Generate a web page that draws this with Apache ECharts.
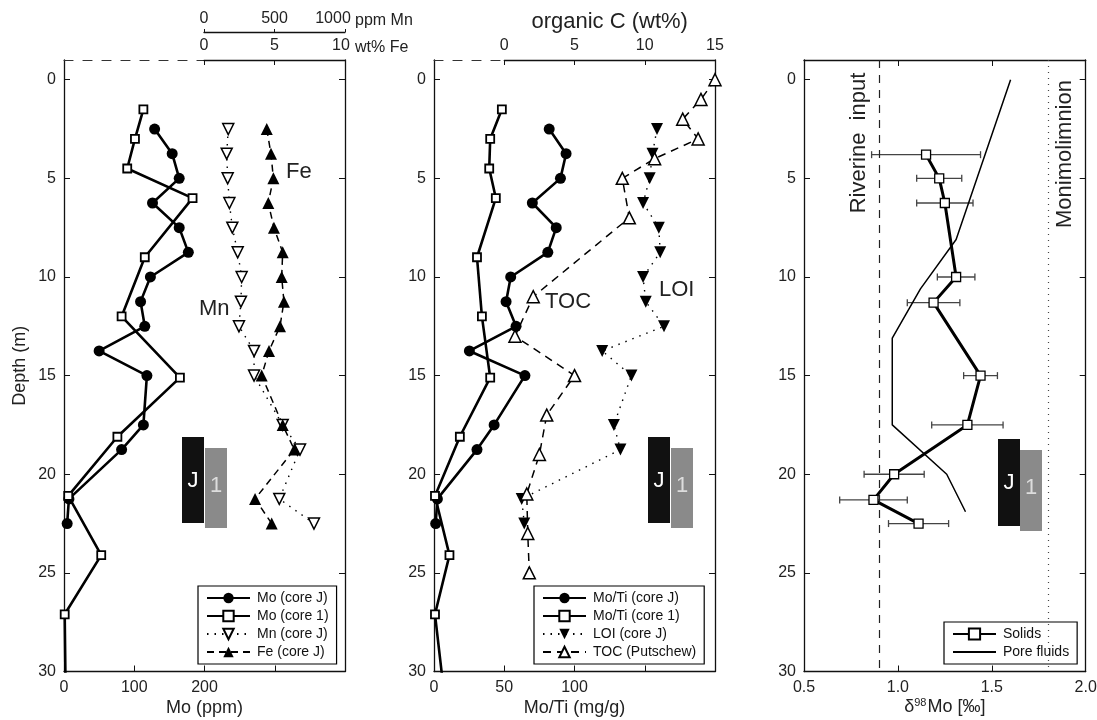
<!DOCTYPE html>
<html><head><meta charset="utf-8">
<script src="https://cdn.jsdelivr.net/npm/echarts@6/dist/echarts.min.js"></script>
<style>html,body{margin:0;padding:0;background:#fff}#c{width:1097px;height:720px}</style>
</head><body><div id="c"></div>
<script>
// ---------- data ----------
const depthJ = [2.5,3.75,5,6.25,7.5,8.75,10,11.25,12.5,13.75,15,17.5,18.75,21.25,22.5];
const moJ   = [129,154,164,126,164,177,123,109,115,50,118,113,82,7,4.5];
const depth1 = [1.5,3,4.5,6,9,12,15.1,18.1,21.1,24.1,27.1,31];
const mo1    = [113,101,90,183,115,82,165,76,6,53,1,2.3];
const mnJ = [172,161,168,180,201,239,267,262,248,355,355,558,681,534,780];
const feJ = [4.45,4.75,4.92,4.56,4.96,5.58,5.51,5.67,5.39,4.61,4.09,5.58,6.4,3.62,4.8];
const motiJ = [82,94,90,70,87,81,54.6,51.3,58.4,25.2,64.7,42.8,30.6,2.4,1.2];
const moti1 = [48.3,40,39.3,44,30.6,34.1,40,18.4,0.7,11,0.7,7.0];
const loiJ = [10.87,10.55,10.35,9.88,11.0,11.1,9.88,10.07,11.37,6.97,9.05,7.8,8.27,1.24,1.42];
const depthTOC = [0,1,2,3,4,5,7,11,13,15,17,19,21,23,25];
const toc      = [15.0,14.0,12.7,13.8,10.7,8.4,8.9,2.06,0.76,5.0,3.02,2.5,1.6,1.67,1.78];
const depthSolid = [3.8,5,6.25,10,11.3,15,17.5,20,21.3,22.5];
const d98Solid   = [1.15,1.22,1.25,1.31,1.19,1.44,1.37,0.98,0.87,1.11];
const d98Err     = [0.29,0.12,0.15,0.10,0.14,0.09,0.19,0.16,0.18,0.16];
const depthPore = [0,8.1,10.6,13.1,17.5,20,21.9];
const d98Pore   = [1.60,1.31,1.12,0.97,0.97,1.26,1.36];
const riverine = 0.9, monimo = 1.8;
const depthTicks = [0,5,10,15,20,25,30];

// ---------- helpers ----------
const FF = "'Liberation Sans', Arial, Helvetica, sans-serif";
const INK = '#111';
const zip = (xs, ys) => xs.map((x, i) => [x, ys[i]]);
const GT = 60, GH = 611.5;
function grid(left, width){ return {left, top:GT, width, height:GH, outerBoundsMode:'none', containLabel:false}; }
function yAx(gridIndex, opts){
  return Object.assign({
    type:'value', gridIndex, min:-1, max:30, inverse:true,
    splitLine:{show:false},
    axisLine:{show:true, onZero:false, lineStyle:{color:INK, width:1.3}},
    axisTick:{show:true, inside:true, length:6, customValues:depthTicks, lineStyle:{color:INK, width:1}},
    axisLabel:{show:true, customValues:depthTicks, fontSize:16, color:'#222', margin:8, fontFamily:FF},
    nameMoveOverlap:false
  }, opts);
}
function xAx(gridIndex, opts){
  return Object.assign({
    type:'value', gridIndex,
    splitLine:{show:false},
    axisLine:{show:true, onZero:false, lineStyle:{color:INK, width:1.3}},
    axisTick:{show:true, inside:true, length:6, lineStyle:{color:INK, width:1}},
    axisLabel:{show:true, fontSize:16, color:'#222', margin:8, fontFamily:FF},
    nameTextStyle:{fontSize:18, color:'#222', fontFamily:FF},
    nameMoveOverlap:false
  }, opts);
}
const noLab = {show:false};
const topLabRich = {
  n:{fontSize:16, color:'#222', fontFamily:FF},
  r10:{fontSize:16, color:'#222', fontFamily:FF, padding:[0,8,0,0]},
  r1000:{fontSize:16, color:'#222', fontFamily:FF, padding:[0,24,0,0]}
};

const legendBase = {
  orient:'vertical', backgroundColor:'#fff', borderColor:'#000', borderWidth:1.2, borderRadius:0,
  padding:[5,8,5,8], itemGap:4, itemWidth:43, itemHeight:13, selectedMode:false,
  textStyle:{fontSize:14, color:'#111', fontFamily:FF, padding:[0,0,0,2]}
};

const black = {color:'#000'};
const openSym = {color:'#fff', borderColor:'#000', borderWidth:1.8};

const option = {
  animation:false,
  backgroundColor:'#fff',
  grid:[ grid(64,281), grid(204,141), grid(434,281), grid(504.3,210.7), grid(804,281.7) ],
  xAxis:[
    // 0: Mo (ppm) bottom
    xAx(0,{min:0,max:400,interval:100, position:'bottom',
      axisLabel:{fontSize:16,color:'#222',margin:8,fontFamily:FF, formatter:v=> v<=200 ? String(v) : ''},
      name:'Mo (ppm)', nameLocation:'middle', nameGap:28}),
    // 1: dashed top of left panel
    xAx(0,{min:0,max:400, position:'top', axisTick:noLab, axisLabel:noLab,
      axisLine:{show:true,onZero:false,lineStyle:{color:'#333',width:1.2,type:[9,10]}}}),
    // 2: Fe wt% top
    xAx(1,{min:0,max:10,interval:5, position:'top', axisTick:{show:true,inside:true,length:5,lineStyle:{color:INK}},
      axisLabel:{margin:6, rich:topLabRich, formatter:v=> v===10 ? '{r10|10}' : '{n|'+v+'}'},
      name:'wt% Fe', nameLocation:'end', nameGap:10,
      nameTextStyle:{fontSize:16,color:'#222',fontFamily:FF, verticalAlign:'bottom', padding:[0,0,4,0]}}),
    // 3: Mn ppm top (offset)
    xAx(1,{min:0,max:1000,interval:500, position:'top', offset:28,
      axisTick:{show:true,inside:false,length:3,lineStyle:{color:INK}},
      axisLabel:{margin:5, rich:topLabRich, formatter:v=> v===1000 ? '{r1000|1000}' : '{n|'+v+'}'},
      name:'ppm Mn', nameLocation:'end', nameGap:10,
      nameTextStyle:{fontSize:16,color:'#222',fontFamily:FF, verticalAlign:'bottom', padding:[0,0,3,0]}}),
    // 4: Mo/Ti bottom
    xAx(2,{min:0,max:200,interval:50, position:'bottom',
      axisLabel:{fontSize:16,color:'#222',margin:8,fontFamily:FF, formatter:v=> v<=100 ? String(v) : ''},
      name:'Mo/Ti (mg/g)', nameLocation:'middle', nameGap:28}),
    // 5: dashed top of middle panel
    xAx(2,{min:0,max:200, position:'top', axisTick:noLab, axisLabel:noLab,
      axisLine:{show:true,onZero:false,lineStyle:{color:'#333',width:1.2,type:[9,10]}}}),
    // 6: organic C top
    xAx(3,{min:0,max:15,interval:5, position:'top', axisTick:{show:true,inside:true,length:5,lineStyle:{color:INK}},
      axisLabel:{fontSize:16,color:'#222',margin:6,fontFamily:FF},
      name:'organic C (wt%)', nameLocation:'middle', nameGap:27,
      nameTextStyle:{fontSize:22,color:'#222',fontFamily:FF}}),
    // 7: delta98Mo bottom
    xAx(4,{min:0.5,max:2.0,interval:0.5, position:'bottom',
      axisLabel:{fontSize:16,color:'#222',margin:8,fontFamily:FF, formatter:v=>v.toFixed(1)},
      name:'{a|δ}{b|98}{a|Mo [‰]}', nameLocation:'middle', nameGap:26,
      nameTextStyle:{fontFamily:FF, rich:{
        a:{fontSize:18,color:'#222',fontFamily:FF},
        b:{fontSize:11,color:'#222',fontFamily:FF, padding:[0,1,9,0]}
      }}}),
    // 8: delta top border
    xAx(4,{min:0.5,max:2.0,interval:0.5, position:'top', axisLabel:noLab})
  ],
  yAxis:[
    yAx(0,{name:'Depth (m)', nameLocation:'middle', nameGap:35, nameRotate:90,
      nameTextStyle:{fontSize:18,color:'#222',fontFamily:FF}}),
    yAx(1,{position:'right', axisLabel:noLab}),
    yAx(2,{}),
    yAx(3,{position:'right', axisLabel:noLab}),
    yAx(4,{}),
    yAx(4,{position:'right', axisLabel:noLab})
  ],
  legend:[
    Object.assign({}, legendBase, {left:198, top:586, data:['Mo (core J)','Mo (core 1)','Mn (core J)','Fe (core J)']}),
    Object.assign({}, legendBase, {left:534, top:586, data:['Mo/Ti (core J)','Mo/Ti (core 1)','LOI (core J)','TOC (Putschew)']}),
    Object.assign({}, legendBase, {left:944, top:622, itemHeight:14, data:['Solids',
      {name:'Pore fluids', itemStyle:{color:'rgba(0,0,0,0)', borderColor:'rgba(0,0,0,0)', borderWidth:0, opacity:0}}]})
  ],
  series:[
    {name:'Mo (core J)', type:'line', xAxisIndex:0, yAxisIndex:0, data:zip(moJ, depthJ),
      symbol:'circle', symbolSize:11, itemStyle:black, lineStyle:{color:'#000', width:2.6}, z:3},
    {name:'Mo (core 1)', type:'line', xAxisIndex:0, yAxisIndex:0, data:zip(mo1, depth1),
      symbol:'rect', symbolSize:8, itemStyle:openSym, lineStyle:{color:'#000', width:2.6}, z:3},
    {name:'Mn (core J)', type:'line', xAxisIndex:3, yAxisIndex:1, data:zip(mnJ, depthJ),
      symbol:'triangle', symbolRotate:180, symbolSize:11, itemStyle:{color:'#fff',borderColor:'#000',borderWidth:1.5},
      lineStyle:{color:'#000', width:1.4, type:[1.5,6]}, z:2},
    {name:'Fe (core J)', type:'line', xAxisIndex:2, yAxisIndex:1, data:zip(feJ, depthJ),
      symbol:'triangle', symbolSize:12, itemStyle:black, lineStyle:{color:'#000', width:1.5, type:[7,5]}, z:2},
    {name:'Mo/Ti (core J)', type:'line', xAxisIndex:4, yAxisIndex:2, data:zip(motiJ, depthJ),
      symbol:'circle', symbolSize:11, itemStyle:black, lineStyle:{color:'#000', width:2.6}, z:3},
    {name:'Mo/Ti (core 1)', type:'line', xAxisIndex:4, yAxisIndex:2, data:zip(moti1, depth1),
      symbol:'rect', symbolSize:8, itemStyle:openSym, lineStyle:{color:'#000', width:2.6}, z:3},
    {name:'LOI (core J)', type:'line', xAxisIndex:6, yAxisIndex:3, data:zip(loiJ, depthJ),
      symbol:'triangle', symbolRotate:180, symbolSize:12, itemStyle:black,
      lineStyle:{color:'#000', width:1.4, type:[1.5,6]}, z:2},
    {name:'TOC (Putschew)', type:'line', xAxisIndex:6, yAxisIndex:3, data:zip(toc, depthTOC),
      symbol:'triangle', symbolSize:12, itemStyle:{color:'#fff',borderColor:'#000',borderWidth:1.5},
      lineStyle:{color:'#000', width:1.5, type:[8,6]}, z:2},
    {name:'errbars', type:'custom', xAxisIndex:7, yAxisIndex:4, z:1,
      data: depthSolid.map((d,i)=>[d98Solid[i], d, d98Err[i]]),
      encode:{x:0, y:1},
      renderItem:function(params, api){
        const x = api.value(0), y = api.value(1), e = api.value(2);
        const p1 = api.coord([x-e, y]), p2 = api.coord([x+e, y]);
        const h = 3.5, st = {stroke:'#444', lineWidth:1.3};
        return {type:'group', children:[
          {type:'line', shape:{x1:p1[0],y1:p1[1],x2:p2[0],y2:p2[1]}, style:st},
          {type:'line', shape:{x1:p1[0],y1:p1[1]-h,x2:p1[0],y2:p1[1]+h}, style:st},
          {type:'line', shape:{x1:p2[0],y1:p2[1]-h,x2:p2[0],y2:p2[1]+h}, style:st}
        ]};
      }},
    {name:'Solids', type:'line', xAxisIndex:7, yAxisIndex:4, data:zip(d98Solid, depthSolid),
      symbol:'rect', symbolSize:9, itemStyle:{color:'#fff',borderColor:'#000',borderWidth:1.3},
      lineStyle:{color:'#000', width:3}, z:3},
    {name:'Pore fluids', type:'line', xAxisIndex:7, yAxisIndex:4, data:zip(d98Pore, depthPore),
      symbol:'none', showSymbol:false, itemStyle:{color:'#000'}, lineStyle:{color:'#000', width:1.5}, z:2,
      markLine:{silent:true, symbol:'none', animation:false, label:{show:false},
        data:[
          {xAxis:riverine, lineStyle:{color:'#222', width:1.2, type:[8,7]}},
          {xAxis:monimo, lineStyle:{color:'#444', width:1.2, type:[1,5]}}
        ]}}
  ],
  graphic:[
    // core labels (J / 1)
    {type:'rect', shape:{x:182,y:437,width:22,height:86}, style:{fill:'#111'}},
    {type:'rect', shape:{x:205,y:448,width:22,height:80}, style:{fill:'#8a8a8a'}},
    {type:'text', x:193, y:481, style:{text:'J', fill:'#fff', font:'22px '+FF, align:'center', verticalAlign:'middle'}},
    {type:'text', x:216, y:486, style:{text:'1', fill:'#ddd', font:'22px '+FF, align:'center', verticalAlign:'middle'}},
    {type:'rect', shape:{x:648,y:437,width:22,height:86}, style:{fill:'#111'}},
    {type:'rect', shape:{x:671,y:448,width:22,height:80}, style:{fill:'#8a8a8a'}},
    {type:'text', x:659, y:481, style:{text:'J', fill:'#fff', font:'22px '+FF, align:'center', verticalAlign:'middle'}},
    {type:'text', x:682, y:486, style:{text:'1', fill:'#ddd', font:'22px '+FF, align:'center', verticalAlign:'middle'}},
    {type:'rect', shape:{x:998,y:439,width:22,height:87}, style:{fill:'#111'}},
    {type:'rect', shape:{x:1020,y:450,width:22,height:81}, style:{fill:'#8a8a8a'}},
    {type:'text', x:1009, y:483, style:{text:'J', fill:'#fff', font:'22px '+FF, align:'center', verticalAlign:'middle'}},
    {type:'text', x:1031, y:488, style:{text:'1', fill:'#ddd', font:'22px '+FF, align:'center', verticalAlign:'middle'}},
    // annotations
    {type:'text', x:286, y:172, style:{text:'Fe', fill:'#222', font:'22px '+FF, align:'left', verticalAlign:'middle'}},
    {type:'text', x:199, y:309, style:{text:'Mn', fill:'#222', font:'22px '+FF, align:'left', verticalAlign:'middle'}},
    {type:'text', x:545, y:302, style:{text:'TOC', fill:'#222', font:'22px '+FF, align:'left', verticalAlign:'middle'}},
    {type:'text', x:659, y:290, style:{text:'LOI', fill:'#222', font:'22px '+FF, align:'left', verticalAlign:'middle'}},
    {type:'text', x:859, y:143, rotation:Math.PI/2, style:{text:'Riverine  input', fill:'#222', font:'22px '+FF, align:'center', verticalAlign:'middle'}},
    {type:'text', x:1065, y:154, rotation:Math.PI/2, style:{text:'Monimolimnion', fill:'#222', font:'22px '+FF, align:'center', verticalAlign:'middle'}}
  ]
};
const chart = echarts.init(document.getElementById('c'), null, {renderer:'canvas'});
chart.setOption(option);
</script>
</body></html>
